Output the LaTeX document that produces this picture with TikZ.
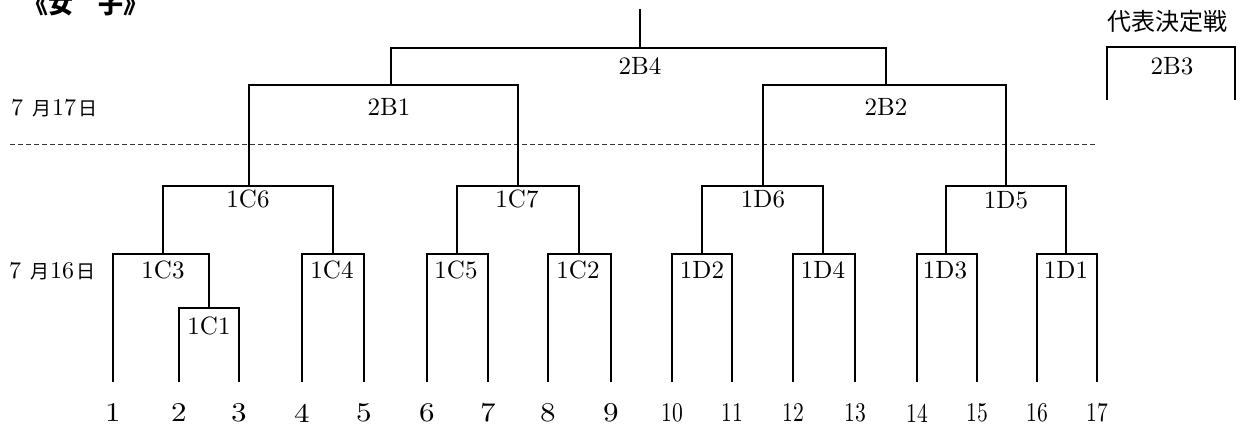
\documentclass[tikz,border=0pt]{standalone}
\usepackage{fontspec}
\newfontfamily\cjk{Noto Sans CJK JP}
\newfontfamily\cjktitle[RawFeature=+palt]{Noto Sans CJK JP}
\newfontfamily\numfont{lmroman10-regular.otf}
\newfontfamily\widenum[FakeStretch=1.15]{lmroman10-regular.otf}
\tikzset{
  br/.style={line width=1.2pt, black},
  sep/.style={line width=0.9pt, black!80, dash pattern=on 5pt off 3pt},
  lbl/.style={font=\fontsize{25}{25}\selectfont\numfont, inner sep=0pt},
  num/.style={font=\fontsize{27}{27}\selectfont\widenum, inner sep=0pt},
  num2/.style={font=\fontsize{27}{27}\selectfont\numfont, inner sep=0pt},
  datelbl/.style={font=\fontsize{24}{24}\selectfont\numfont, inner sep=0pt, anchor=west},
}
\newcommand{\jp}[1]{{\fontsize{19}{19}\selectfont\cjk #1}}
\begin{document}
\begin{tikzpicture}[x=1pt,y=-1pt]
\useasboundingbox (0,0) rectangle (1243,425);
% title
\node[inner sep=0pt, anchor=west, font=\fontsize{25}{25}\selectfont\cjktitle\bfseries] (title) at (36,4) {《女　子》};
% date labels
\node[datelbl] (d17) at (11,108) {7\hspace{9pt}\jp{月}\hspace{1pt}17\hspace{2pt}\jp{日}};
\node[datelbl] (d16) at (9,271) {7\hspace{9pt}\jp{月}\hspace{1pt}16\hspace{2pt}\jp{日}};
% separator
\coordinate (s1) at (10,144);
\coordinate (s2) at (1097,144);
\draw[sep] (s1) -- (s2);
% leaves
\foreach \i/\x in {1/113,2/179,3/239,4/302,5/364,6/427,7/488,8/548,9/611}{
  \coordinate (l\i) at (\x,382);
  \node[num] (n\i) at (\x,413) {\i};
}
\foreach \i/\x in {10/672,11/732,12/793,13/855,14/917,15/977,16/1037,17/1097}{
  \coordinate (l\i) at (\x,382);
  \node[num2] (n\i) at (\x,413) {\scalebox{0.8}[1]{\i}};
}
% match points
\coordinate (p1C1) at (209,308);
\coordinate (p1C3) at (163,254);
\coordinate (p1C4) at (333,254);
\coordinate (p1C5) at (457,254);
\coordinate (p1C2) at (579,254);
\coordinate (p1D2) at (702,254);
\coordinate (p1D4) at (823,254);
\coordinate (p1D3) at (946,254);
\coordinate (p1D1) at (1066,254);
\coordinate (p1C6) at (249,186);
\coordinate (p1C7) at (518,186);
\coordinate (p1D6) at (763,186);
\coordinate (p1D5) at (1006,186);
\coordinate (p2B1) at (391,85);
\coordinate (p2B2) at (886,85);
\coordinate (p2B4) at (640,48);
\coordinate (top) at (640,9);
% brackets
\draw[br] (l2) |- (p1C1) -| (l3);
\draw[br] (l1) |- (p1C3) -| (p1C1);
\draw[br] (l4) |- (p1C4) -| (l5);
\draw[br] (l6) |- (p1C5) -| (l7);
\draw[br] (l8) |- (p1C2) -| (l9);
\draw[br] (l10) |- (p1D2) -| (l11);
\draw[br] (l12) |- (p1D4) -| (l13);
\draw[br] (l14) |- (p1D3) -| (l15);
\draw[br] (l16) |- (p1D1) -| (l17);
\draw[br] (p1C3) |- (p1C6) -| (p1C4);
\draw[br] (p1C5) |- (p1C7) -| (p1C2);
\draw[br] (p1D2) |- (p1D6) -| (p1D4);
\draw[br] (p1D3) |- (p1D5) -| (p1D1);
\draw[br] (p1C6) |- (p2B1) -| (p1C7);
\draw[br] (p1D6) |- (p2B2) -| (p1D5);
\draw[br] (p2B1) |- (p2B4) -| (p2B2);
\draw[br] (p2B4) -- (top);
% match labels
\node[lbl] (t1C1) at (209,326) {1C1};
\node[lbl] (t1C3) at (163,270) {1C3};
\node[lbl] (t1C4) at (332,270) {1C4};
\node[lbl] (t1C5) at (456,270) {1C5};
\node[lbl] (t1C2) at (578,270) {1C2};
\node[lbl] (t1D2) at (702,270) {1D2};
\node[lbl] (t1D4) at (823,270) {1D4};
\node[lbl] (t1D3) at (945,270) {1D3};
\node[lbl] (t1D1) at (1066,270) {1D1};
\node[lbl] (t1C6) at (248,199) {1C6};
\node[lbl] (t1C7) at (517,199) {1C7};
\node[lbl] (t1D6) at (763,199) {1D6};
\node[lbl] (t1D5) at (1006,200) {1D5};
\node[lbl] (t2B1) at (389,107) {2B1};
\node[lbl] (t2B2) at (886,107) {2B2};
\node[lbl] (t2B4) at (640,66) {2B4};
% representative play-off
\node[inner sep=0pt, font=\fontsize{24}{24}\selectfont\cjk] (rep) at (1167,21) {代表決定戦};
\coordinate (b3l) at (1107,100);
\coordinate (b3r) at (1235,100);
\coordinate (p2B3) at (1171,47);
\draw[br] (b3l) |- (p2B3) -| (b3r);
\node[lbl] (t2B3) at (1172,66) {2B3};
\end{tikzpicture}
\end{document}
